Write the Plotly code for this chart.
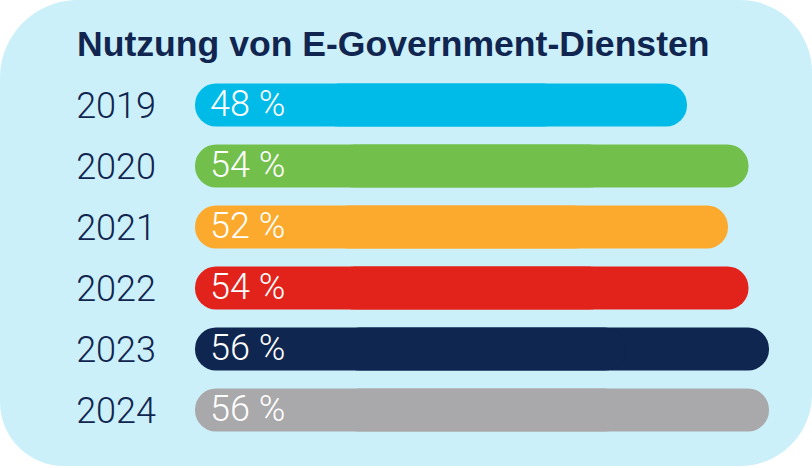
import plotly.graph_objects as go

years = ["2019", "2020", "2021", "2022", "2023", "2024"]
values = [48, 54, 52, 54, 56, 56]
labels = ["48 %", "54 %", "52 %", "54 %", "56 %", "56 %"]
colors = ["#00bbe8", "#72bf4b", "#fbaa2e", "#e2231c", "#0e2650", "#a9a8aa"]
title = "Nutzung von E-Government-Diensten"

W, H = 812, 468
NAVY = "#10254f"

def fx(px):
    return px / W

def fy(py):
    return 1 - py / H

k = 0.5523
L, T, R, B = 0, 0, 812, 466
rtl, rtr, rbr, rbl = 78, 72, 72, 64
def P(x, y):
    return f"{fx(x):.5f},{fy(y):.5f}"
path = (
    f"M {P(L + rtl, T)} L {P(R - rtr, T)} "
    f"C {P(R - rtr + k*rtr, T)} {P(R, T + rtr - k*rtr)} {P(R, T + rtr)} "
    f"L {P(R, B - rbr)} "
    f"C {P(R, B - rbr + k*rbr)} {P(R - rbr + k*rbr, B)} {P(R - rbr, B)} "
    f"L {P(L + rbl, B)} "
    f"C {P(L + rbl - k*rbl, B)} {P(L, B - rbl + k*rbl)} {P(L, B - rbl)} "
    f"L {P(L, T + rtl)} "
    f"C {P(L, T + rtl - k*rtl)} {P(L + rtl - k*rtl, T)} {P(L + rtl, T)} Z"
)

x0px = 195
px_per_unit = 10.25
xmax = (W - x0px) / px_per_unit

# Each pill = two overlapping rounded bars (one rounded at the value end,
# one rounded at the zero end); overlaps hide the inner rounded ends.
right_base = [v * 0.25 for v in values]
right_len = [v * 0.75 for v in values]
left_base = [v * 0.75 for v in values]
left_len = [-v * 0.75 for v in values]

fig = go.Figure()
fig.add_trace(go.Bar(
    x=right_len, base=right_base, y=years, orientation="h",
    marker=dict(color=colors, cornerradius="50%", line=dict(width=0)),
    hoverinfo="skip", showlegend=False,
))
fig.add_trace(go.Bar(
    x=left_len, base=left_base, y=years, orientation="h",
    marker=dict(color=colors, cornerradius="50%", line=dict(width=0)),
    hoverinfo="skip", showlegend=False,
))

for i, lab in enumerate(labels):
    fig.add_annotation(
        x=0, y=i, xref="x", yref="y", text=lab, showarrow=False,
        xanchor="left", yanchor="middle", xshift=13, yshift=1,
        font=dict(family="Roboto", size=36, color="white", weight=300),
    )

fig.add_annotation(
    x=fx(75), y=fy(66), xref="paper", yref="paper", text=title,
    showarrow=False, xanchor="left", yanchor="bottom",
    font=dict(family="Liberation Sans", size=35.6, color=NAVY, weight=700),
)

fig.add_shape(type="path", path=path, xref="paper", yref="paper",
              fillcolor="#ccf0fa", line=dict(width=0), layer="below")

top_px, bot_px = 74.5, 440.5
fig.update_layout(
    template="none",
    width=W, height=H,
    margin=dict(l=0, r=0, t=0, b=0, pad=0, autoexpand=False),
    paper_bgcolor="white", plot_bgcolor="rgba(0,0,0,0)",
    barmode="overlay",
    bargap=0.295,
    xaxis=dict(domain=[fx(x0px), 1], range=[0, xmax], autorange=False,
               visible=False, fixedrange=True, automargin=False),
    yaxis=dict(domain=[fy(bot_px), fy(top_px)], type="category",
               categoryorder="array", categoryarray=years,
               range=[5.5, -0.5], autorange=False, automargin=False,
               showgrid=False, zeroline=False, showline=False,
               ticks="", ticklabelstandoff=38,
               tickfont=dict(family="Roboto", size=36, color=NAVY, weight=300),
               fixedrange=True),
)

fig.write_html("out.html", config={"displayModeBar": False},
               post_script="document.body.style.margin='0';document.body.style.overflow='hidden';")
